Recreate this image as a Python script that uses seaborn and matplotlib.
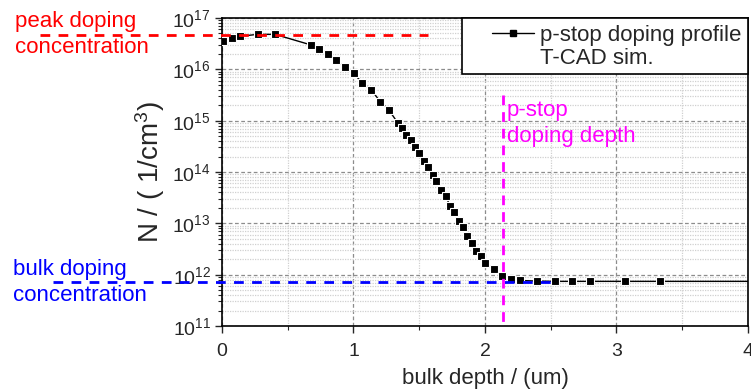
import matplotlib
matplotlib.use("Agg")
import numpy as np
import pandas as pd
import matplotlib.pyplot as plt
from matplotlib.lines import Line2D
from matplotlib.patches import Rectangle
from matplotlib.ticker import LogLocator, MultipleLocator, NullFormatter
import seaborn as sns

# p-stop doping profile (depth in um, N in 1/cm^3)
depth = [0.01, 0.074, 0.137, 0.271, 0.403, 0.674, 0.735, 0.803, 0.869, 0.935,
         1.001, 1.066, 1.135, 1.203, 1.267, 1.335, 1.368, 1.400, 1.434, 1.469,
         1.499, 1.537, 1.568, 1.601, 1.631, 1.669, 1.700, 1.735, 1.765, 1.803,
         1.834, 1.866, 1.898, 1.935, 1.967, 2.001, 2.065, 2.131, 2.201, 2.268,
         2.396, 2.533, 2.665, 2.799, 3.065, 3.331]
conc = [3.5e16, 4.0e16, 4.4e16, 4.8e16, 4.8e16, 3.0e16, 2.45e16, 1.97e16, 1.5e16, 1.1e16,
        8.3e15, 5.5e15, 4.0e15, 2.35e15, 1.64e15, 9.2e14, 7.2e14, 5.3e14, 4.15e14, 3.0e14,
        2.36e14, 1.64e14, 1.26e14, 8.6e13, 6.7e13, 4.5e13, 3.36e13, 2.2e13, 1.69e13, 1.13e13,
        8.4e12, 5.6e12, 4.2e12, 2.9e12, 2.3e12, 1.69e12, 1.28e12, 9.3e11, 8.4e11, 7.7e11,
        7.5e11, 7.4e11, 7.4e11, 7.4e11, 7.4e11, 7.4e11]
# the simulated curve runs on to the plot edge past the last marker
tail_depth = [4.0]
tail_conc = [7.4e11]

peak_conc = 4.7e16
bulk_conc = 7.2e11
pstop_depth = 2.135

sns.set_style("ticks")
plt.rcParams["font.family"] = ["Liberation Sans", "DejaVu Sans"]
plt.rcParams["mathtext.default"] = "regular"

df = pd.DataFrame({"depth": depth + tail_depth, "N": conc + tail_conc})

fig = plt.figure(figsize=(7.51, 3.92), dpi=100)
ax = fig.add_axes([0.2956, 0.1684, 0.7004, 0.7857])

sns.lineplot(data=df, x="depth", y="N", ax=ax, color="black", linewidth=1,
             marker="s", markersize=5.5, markeredgewidth=0.8,
             markevery=list(range(len(depth))), zorder=4)
ax.set_yscale("log")

# reference lines, some reach out past the axes
ax.plot([-1.383, 1.565], [peak_conc, peak_conc], color="#ff0000", lw=2,
        dashes=(3.5, 3), clip_on=False, zorder=5)
ax.plot([-1.284, 2.546], [bulk_conc, bulk_conc], color="#0000ff", lw=2,
        dashes=(3.5, 3), clip_on=False, zorder=5)
ax.plot([pstop_depth, pstop_depth], [3.2e15, 1e11], color="#ff00ff", lw=2,
        dashes=(3.5, 2.5), clip_on=False, zorder=5)

ax.set_xlim(0, 4)
ax.set_ylim(1e11, 1e17)

ax.xaxis.set_major_locator(MultipleLocator(1))
ax.xaxis.set_minor_locator(MultipleLocator(0.5))
ax.yaxis.set_major_locator(LogLocator(base=10, numticks=10))
ax.yaxis.set_minor_locator(LogLocator(base=10, subs=np.arange(2, 10), numticks=10))
ax.yaxis.set_minor_formatter(NullFormatter())

ax.grid(which="major", color="#8c8c8c", linestyle=(0, (3, 2)), linewidth=0.9)
ax.grid(which="minor", color="#d0d0d0", linestyle=(0, (1, 1)), linewidth=0.9)
ax.set_axisbelow(True)

for s in ax.spines.values():
    s.set_linewidth(1.2)
    s.set_color("black")
ax.tick_params(which="major", direction="out", length=5, width=1, labelsize=14)
ax.tick_params(axis="x", which="major", pad=7)
ax.tick_params(axis="y", which="major", pad=3)
ax.tick_params(which="minor", direction="out", length=3, width=0.8)

ax.set_xlabel("bulk depth / (um)", fontsize=16, labelpad=6)
ax.set_ylabel("N / ( 1/cm$^{3}$)", fontsize=20, labelpad=4)

# white legend box spanning from the upper right corner
box = Rectangle((0.456, 0.818), 0.544, 0.182, transform=ax.transAxes,
                facecolor="white", edgecolor="black", linewidth=1.2,
                zorder=6, clip_on=False)
ax.add_patch(box)

# legend: marker line on the first row, second row without a handle
h1 = Line2D([], [], color="black", lw=1, marker="s", markersize=4)
h2 = Line2D([], [], color="none")
leg = ax.legend([h1, h2], ["p-stop doping profile", "T-CAD sim."],
                loc="upper right", bbox_to_anchor=(1.0, 1.0), borderaxespad=0,
                fontsize=16, frameon=False, handlelength=1.9,
                handletextpad=0.25, labelspacing=0.12, borderpad=0.3)
leg.set_zorder(7)

fig.text(0.02, 0.972, "peak doping\nconcentration", color="#ff0000",
         fontsize=16, ha="left", va="top", linespacing=1.32)
fig.text(0.017, 0.34, "bulk doping\nconcentration", color="#0000ff",
         fontsize=16, ha="left", va="top", linespacing=1.32)
fig.text(0.675, 0.745, "p-stop\ndoping depth", color="#ff00ff",
         fontsize=16, ha="left", va="top", linespacing=1.32)

fig.savefig("out.png", dpi=100)
